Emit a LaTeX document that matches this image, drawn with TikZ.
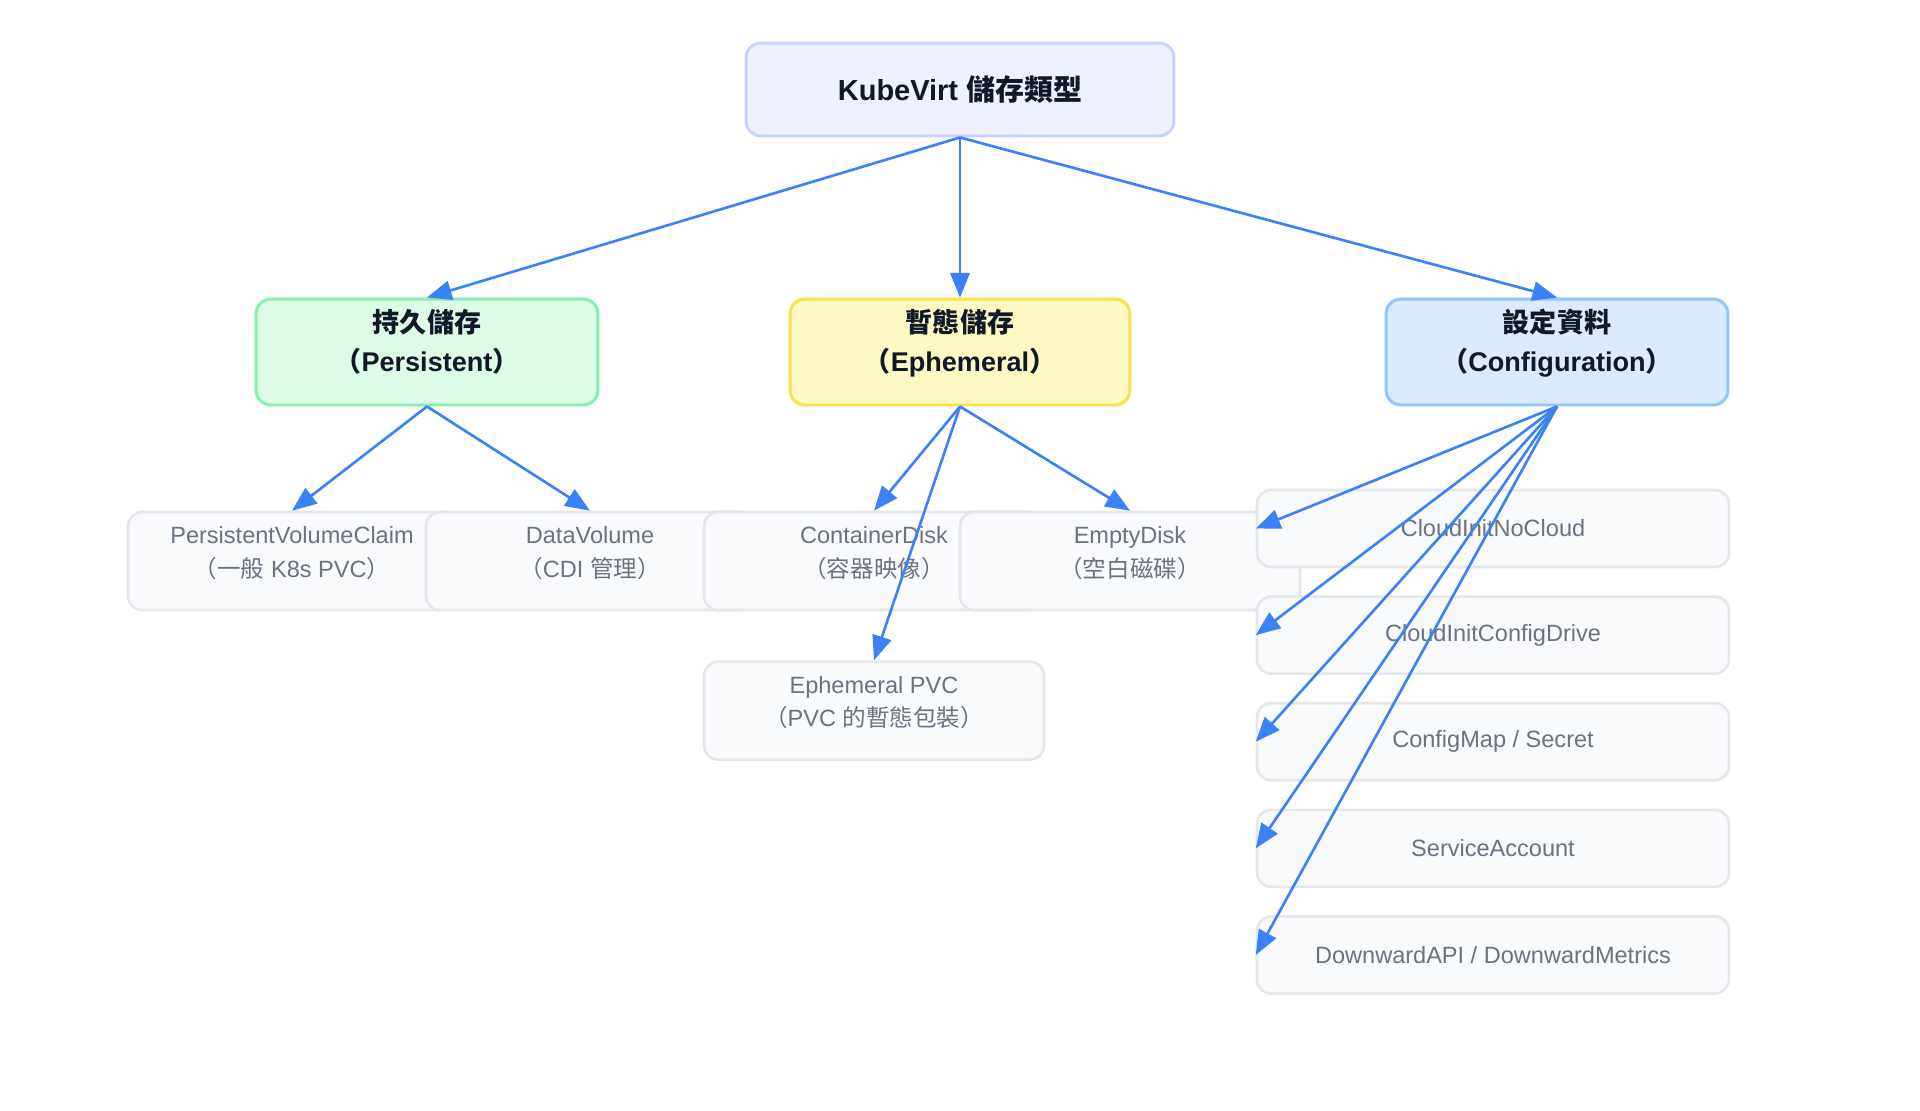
\documentclass[tikz,border=0pt]{standalone}
\usepackage{fontspec}
\setmainfont{Liberation Sans}
\newfontfamily\cjkfont{Noto Sans CJK TC}
\newcommand{\zh}[1]{{\cjkfont #1}}
\usetikzlibrary{positioning, arrows.meta}
\definecolor{kvblue}   {RGB}{59,  130, 246}
\definecolor{kvtext}   {RGB}{17,  24,  39}
\definecolor{rootfill} {RGB}{238, 242, 255}
\definecolor{rootline} {RGB}{199, 210, 254}
\definecolor{persfill} {RGB}{220, 252, 231}
\definecolor{persline} {RGB}{134, 239, 172}
\definecolor{ephfill}  {RGB}{254, 249, 195}
\definecolor{ephline}  {RGB}{253, 224, 71}
\definecolor{conffill} {RGB}{219, 234, 254}
\definecolor{confline} {RGB}{147, 197, 253}
\definecolor{leaffill} {RGB}{248, 250, 252}
\definecolor{leafline} {RGB}{229, 231, 235}
\definecolor{leaftext} {RGB}{107, 114, 128}
\tikzset{
  kvroot/.style={
    draw=rootline, fill=rootfill, line width=1.7pt,
    rounded corners=0.3cm, minimum width=8.56cm, minimum height=1.86cm,
    font=\fontsize{16.5}{20}\selectfont\bfseries, text=kvtext
  },
  kvgroup/.style={
    line width=1.7pt, rounded corners=0.3cm,
    minimum width=6.84cm, minimum height=2.12cm, align=center,
    font=\fontsize{15.4}{22.2}\selectfont\bfseries, text=kvtext,
    text height=1.0cm, text depth=0.24cm
  },
  kvleaf/.style={
    draw=leafline, fill=leaffill, line width=1.5pt,
    rounded corners=0.28cm, minimum width=6.8cm, minimum height=1.96cm,
    align=center, font=\fontsize{13.4}{18.8}\selectfont, text=leaftext,
    text height=0.9cm, text depth=0.26cm
  },
  kvitem/.style={
    draw=leafline, fill=leaffill, line width=1.5pt,
    rounded corners=0.28cm, minimum width=9.44cm, minimum height=1.54cm,
    font=\fontsize{13.4}{16}\selectfont, text=leaftext
  },
  kvarrow/.style={
    -{Triangle[length=14pt, width=11pt]}, line width=1.5pt, draw=kvblue
  },
}
\begin{document}
\begin{tikzpicture}[x=0.02cm, y=-0.02cm]
  \useasboundingbox[fill=white] (0,0) rectangle (1920,1110);
  % root and the three groups
  \node[kvroot] (root) at (960,89.5) {KubeVirt \zh{儲存類型}};
  \node[kvgroup, draw=persline, fill=persfill] (pers) at (427,352)
        {\zh{持久儲存}\\\zh{（}Persistent\zh{）}};
  \node[kvgroup, draw=ephline, fill=ephfill, minimum width=6.8cm] (eph) at (960,352)
        {\zh{暫態儲存}\\\zh{（}Ephemeral\zh{）}};
  \node[kvgroup, draw=confline, fill=conffill] (conf) at (1557,352)
        {\zh{設定資料}\\\zh{（}Configuration\zh{）}};
  % volume kinds
  \node[kvleaf, minimum width=6.56cm] (pvc) at (292,561)
        {PersistentVolumeClaim\\\zh{（一般} K8s PVC\zh{）}};
  \node[kvleaf, minimum width=6.56cm] (dv) at (590,561)
        {DataVolume\\\zh{（}CDI \zh{管理）}};
  \node[kvleaf] (cdisk) at (874,561) {ContainerDisk\\\zh{（容器映像）}};
  \node[kvleaf] (edisk) at (1130,561) {EmptyDisk\\\zh{（空白磁碟）}};
  \node[kvitem] (nocloud) at (1493,528.5) {CloudInitNoCloud};
  \node[kvitem, below=0.54cm of nocloud] (cfgdrive) {CloudInitConfigDrive};
  \node[kvitem, below=0.54cm of cfgdrive] (cmap) {ConfigMap / Secret};
  \node[kvitem, below=0.54cm of cmap] (sa) {ServiceAccount};
  \node[kvitem, below=0.54cm of sa] (dapi) {DownwardAPI / DownwardMetrics};
  \node[kvleaf, below=0.98cm of cdisk] (epvc)
        {Ephemeral PVC\\\zh{（}PVC \zh{的暫態包裝）}};
  % connectors
  \foreach \g in {pers, eph, conf}
    \draw[kvarrow] (root.south) -- (\g.north);
  \foreach \l in {pvc, dv}
    \draw[kvarrow] (pers.south) -- (\l.north);
  \foreach \l in {cdisk, edisk, epvc}
    \draw[kvarrow] (eph.south) -- (\l.north);
  \foreach \l in {nocloud, cfgdrive, cmap, sa, dapi}
    \draw[kvarrow] (conf.south) -- (\l.west);
\end{tikzpicture}
\end{document}
